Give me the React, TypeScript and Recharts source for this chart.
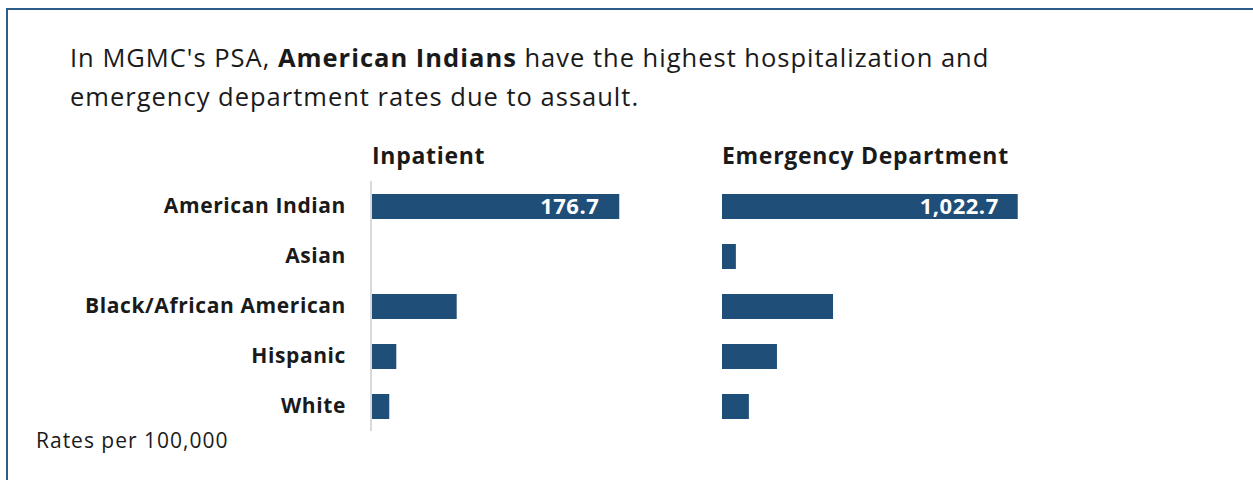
import React from "react";
import { Bar, BarChart, LabelList, XAxis, YAxis } from "recharts";

const categories = ["American Indian", "Asian", "Black/African American", "Hispanic", "White"];
const inpatientRates = [176.7, null, 61, 18, 13];
const edRates = [1022.7, 48, 384, 190, 93];

const inpatientData = categories.map((name, i) => ({ name, value: inpatientRates[i] }));
const edData = categories.map((name, i) => ({ name, value: edRates[i] }));

const FONT = "'Open Sans', sans-serif";
const BLUE = "#1f4e78";

// only the largest bar carries its value
const maxLabel = (max: number) => (v: any) =>
  v === max ? v.toLocaleString("en-US", { minimumFractionDigits: 1, maximumFractionDigits: 1 }) : "";

function App() {
  return (
    <div style={{ position: "fixed", left: 0, top: 0, width: 1253, height: 480, overflow: "hidden", background: "#fff", fontFamily: FONT }}>
      <div style={{ position: "absolute", left: 6, top: 8, width: 1400, height: 600, borderLeft: "2px solid #2b5c8a", borderTop: "2px solid #2b5c8a" }} />
      <div style={{ position: "absolute", left: 70, top: 38, fontSize: 25.5, letterSpacing: 1, lineHeight: "39px", color: "#1a1a1a" }}>
        In MGMC's PSA, <b>American Indians</b> have the highest hospitalization and
        <br />
        emergency department rates due to assault.
      </div>
      <div style={{ position: "absolute", left: 372, top: 140, fontSize: 23, letterSpacing: 0.7, lineHeight: "30px", fontWeight: 700, color: "#1a1a1a" }}>Inpatient</div>
      <div style={{ position: "absolute", left: 722, top: 140, fontSize: 23, letterSpacing: 0.7, lineHeight: "30px", fontWeight: 700, color: "#1a1a1a" }}>Emergency Department</div>
      <div style={{ position: "absolute", left: 36, top: 427, fontSize: 21, letterSpacing: 1, lineHeight: "26px", color: "#1a1a1a" }}>Rates per 100,000</div>

      <div style={{ position: "absolute", left: 0, top: 181 }}>
        <BarChart width={652} height={251} data={inpatientData} layout="vertical" margin={{ top: 0, right: 0, bottom: 1, left: 0 }} barSize={25}>
          <XAxis type="number" domain={[0, 200]} hide />
          <YAxis
            type="category"
            dataKey="name"
            width={371}
            tickLine={false}
            tickSize={0}
            tickMargin={25}
            axisLine={{ stroke: "#d9d9d9", strokeWidth: 2 }}
            tick={{ fill: "#1a1a1a", fontSize: 21, fontWeight: 700, fontFamily: FONT, letterSpacing: 0.6 }}
          />
          <Bar dataKey="value" fill={BLUE} isAnimationActive={false}>
            <LabelList dataKey="value" position="insideRight" offset={20} formatter={maxLabel(176.7)} fill="#fff" fontSize={22} fontWeight={700} fontFamily={FONT} style={{ letterSpacing: 0.5 }} />
          </Bar>
        </BarChart>
      </div>

      <div style={{ position: "absolute", left: 722, top: 181 }}>
        <BarChart width={348} height={251} data={edData} layout="vertical" margin={{ top: 0, right: 1, bottom: 1, left: 0 }} barSize={25}>
          <XAxis type="number" domain={[0, 1200]} hide />
          <YAxis type="category" dataKey="name" hide />
          <Bar dataKey="value" fill={BLUE} isAnimationActive={false}>
            <LabelList dataKey="value" position="insideRight" offset={19} formatter={maxLabel(1022.7)} fill="#fff" fontSize={22} fontWeight={700} fontFamily={FONT} style={{ letterSpacing: 0.5 }} />
          </Bar>
        </BarChart>
      </div>
    </div>
  );
}

export default App;
